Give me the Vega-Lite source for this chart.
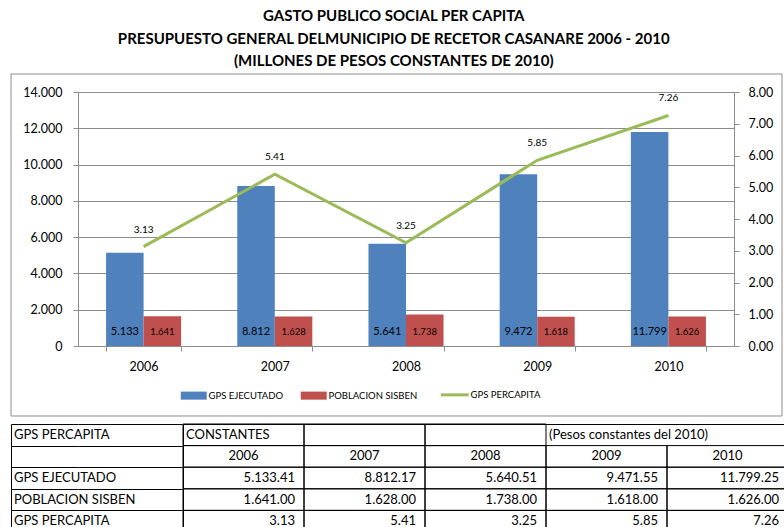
{
  "$schema": "https://vega.github.io/schema/vega-lite/v6.json",
  "padding": {"left": 10, "top": 9, "right": 0, "bottom": 0},
  "background": "white",
  "title": {
    "text": ["GASTO PUBLICO SOCIAL PER CAPITA", "PRESUPUESTO GENERAL DELMUNICIPIO DE RECETOR CASANARE 2006 - 2010", "(MILLONES DE PESOS CONSTANTES DE 2010)"],
    "anchor": "middle", "frame": "bounds", "dx": -6, "fontSize": 15, "fontWeight": "bold", "font": "Lato", "lineHeight": 22.5, "offset": 4, "color": "black"
  },
  "datasets": {
    "main": [
      {"year": "2006", "series": "GPS EJECUTADO", "value": 5133.41},
      {"year": "2007", "series": "GPS EJECUTADO", "value": 8812.17},
      {"year": "2008", "series": "GPS EJECUTADO", "value": 5640.51},
      {"year": "2009", "series": "GPS EJECUTADO", "value": 9471.55},
      {"year": "2010", "series": "GPS EJECUTADO", "value": 11799.25},
      {"year": "2006", "series": "POBLACION SISBEN", "value": 1641},
      {"year": "2007", "series": "POBLACION SISBEN", "value": 1628},
      {"year": "2008", "series": "POBLACION SISBEN", "value": 1738},
      {"year": "2009", "series": "POBLACION SISBEN", "value": 1618},
      {"year": "2010", "series": "POBLACION SISBEN", "value": 1626},
      {"year": "2006", "series": "GPS PERCAPITA", "value": 3.13},
      {"year": "2007", "series": "GPS PERCAPITA", "value": 5.41},
      {"year": "2008", "series": "GPS PERCAPITA", "value": 3.25},
      {"year": "2009", "series": "GPS PERCAPITA", "value": 5.85},
      {"year": "2010", "series": "GPS PERCAPITA", "value": 7.26}
    ],
    "rowlabels": [
      {"series": "h1", "col": "label", "label": "GPS PERCAPITA"},
      {"series": "h2", "col": "label", "label": ""},
      {"series": "GPS EJECUTADO", "col": "label", "label": "GPS EJECUTADO"},
      {"series": "POBLACION SISBEN", "col": "label", "label": "POBLACION SISBEN"},
      {"series": "GPS PERCAPITA", "col": "label", "label": "GPS PERCAPITA"}
    ],
    "headers": [
      {"series": "h1", "year": "2006", "label": "CONSTANTES"},
      {"series": "h1", "year": "2007", "label": ""},
      {"series": "h1", "year": "2008", "label": ""},
      {"series": "h1", "year": "2009", "label": "(Pesos constantes del 2010)"},
      {"series": "h1", "year": "2010", "label": ""},
      {"series": "h2", "year": "2006", "label": "2006"},
      {"series": "h2", "year": "2007", "label": "2007"},
      {"series": "h2", "year": "2008", "label": "2008"},
      {"series": "h2", "year": "2009", "label": "2009"},
      {"series": "h2", "year": "2010", "label": "2010"}
    ]
  },
  "spacing": 6,
  "vconcat": [
    {
      "width": 656,
      "height": 254,
      "layer": [
        {
          "data": {"values": [{"frame": "chart"}]},
          "mark": {"type": "rect", "filled": false, "stroke": "#8c8c8c", "strokeWidth": 1, "clip": false},
          "encoding": {
            "x": {"datum": -0.10213, "type": "quantitative", "scale": {"domain": [0, 1], "nice": false, "zero": false}, "axis": null},
            "x2": {"datum": 1.07317},
            "y": {"datum": -0.27559, "type": "quantitative", "scale": {"domain": [0, 1], "nice": false, "zero": false}, "axis": null},
            "y2": {"datum": 1.07087}
          }
        },
        {
          "data": {"name": "main"},
          "encoding": {
            "x": {
              "field": "year", "type": "nominal",
              "scale": {"type": "band", "paddingInner": 0.428, "paddingOuter": 0.214},
              "axis": {"title": null, "labelAngle": 0, "tickBand": "extent", "ticks": true, "tickSize": 5, "tickColor": "#8c8c8c", "domainColor": "#8c8c8c", "labelFontSize": 12.5, "labelPadding": 9, "labelColor": "black", "grid": false}
            }
          },
          "layer": [
            {
              "transform": [{"filter": "datum.series !== 'GPS PERCAPITA'"}],
              "encoding": {
                "xOffset": {"field": "series", "type": "nominal", "scale": {"domain": ["GPS EJECUTADO", "POBLACION SISBEN"], "paddingInner": 0, "paddingOuter": 0}},
                "y": {
                  "field": "value", "type": "quantitative",
                  "scale": {"domain": [0, 14000], "nice": false},
                  "axis": {"title": null, "orient": "left", "values": [0, 2000, 4000, 6000, 8000, 10000, 12000, 14000], "format": ",.0f", "grid": true, "gridColor": "#8c8c8c", "tickSize": 5, "tickColor": "#8c8c8c", "domainColor": "#8c8c8c", "labelFontSize": 12.5, "labelPadding": 11, "labelColor": "black"}
                }
              },
              "layer": [
                {
                  "mark": {"type": "bar"},
                  "encoding": {
                    "color": {
                      "field": "series", "type": "nominal",
                      "scale": {"domain": ["GPS EJECUTADO", "POBLACION SISBEN", "GPS PERCAPITA"], "range": ["#4F81BD", "#C0504D", "#9BBB59"]},
                      "legend": {
                        "title": null, "orient": "none", "legendX": 111, "legendY": 298, "direction": "horizontal",
                        "labelFontSize": 9.5, "labelColor": "black", "labelOffset": 10, "columnPadding": 16,
                        "encode": {
                          "symbols": {
                            "update": {
                              "shape": {"signal": "datum.value === 'GPS PERCAPITA' ? 'M-1.15,0H1' : 'M-1,-0.31H1V0.31H-1Z'"},
                              "size": {"value": 676},
                              "fill": {"scale": "color", "field": "value"},
                              "stroke": {"scale": "color", "field": "value"},
                              "strokeWidth": {"signal": "datum.value === 'GPS PERCAPITA' ? 3 : 0"},
                              "opacity": {"value": 1}
                            }
                          }
                        }
                      }
                    }
                  }
                },
                {
                  "mark": {"type": "text", "dy": -14, "color": "black"},
                  "encoding": {
                    "y": {"datum": 0, "type": "quantitative"},
                    "text": {"field": "value", "type": "quantitative", "format": ",.0f"},
                    "size": {"field": "series", "type": "ordinal", "scale": {"domain": ["GPS EJECUTADO", "POBLACION SISBEN"], "range": [11, 9.5]}, "legend": null}
                  }
                }
              ]
            },
            {
              "transform": [{"filter": "datum.series === 'GPS PERCAPITA'"}],
              "encoding": {
                "y": {
                  "field": "value", "type": "quantitative",
                  "scale": {"domain": [0, 8], "nice": false},
                  "axis": {"title": null, "orient": "right", "values": [0, 1, 2, 3, 4, 5, 6, 7, 8], "format": ".2f", "grid": false, "tickSize": 5, "tickColor": "#8c8c8c", "domainColor": "#8c8c8c", "labelFontSize": 12.5, "labelPadding": 9, "labelColor": "black"}
                }
              },
              "layer": [
                {
                  "mark": {"type": "line", "strokeWidth": 3},
                  "encoding": {
                    "color": {"field": "series", "type": "nominal", "scale": {"domain": ["GPS EJECUTADO", "POBLACION SISBEN", "GPS PERCAPITA"], "range": ["#4F81BD", "#C0504D", "#9BBB59"]}}
                  }
                },
                {
                  "mark": {"type": "text", "dy": -17, "fontSize": 10, "color": "black"},
                  "encoding": {"text": {"field": "value", "type": "quantitative", "format": ".2f"}}
                }
              ]
            }
          ],
          "resolve": {"scale": {"y": "independent"}}
        }
      ],
      "resolve": {"scale": {"x": "independent", "y": "independent"}}
    },
    {
      "spacing": 0,
      "hconcat": [
        {
          "width": 104,
          "height": 108,
          "data": {"name": "rowlabels"},
          "mark": {"type": "text", "align": "left", "dx": -116, "fontSize": 13, "color": "black"},
          "encoding": {
            "x": {"field": "col", "type": "nominal", "scale": {"type": "band", "paddingInner": 0, "paddingOuter": 0}, "axis": null},
            "y": {
              "field": "series", "type": "nominal",
              "scale": {"type": "band", "domain": ["h1", "h2", "GPS EJECUTADO", "POBLACION SISBEN", "GPS PERCAPITA"], "paddingInner": 0, "paddingOuter": 0},
              "axis": {"title": null, "orient": "left", "offset": 67, "labels": false, "grid": true, "gridColor": "black", "gridWidth": 1, "gridOpacity": 1, "domain": true, "domainColor": "black", "domainWidth": 1, "ticks": true, "tickBand": "extent", "tickSize": -67, "tickColor": "black", "tickWidth": 1, "minExtent": 0}
            },
            "text": {"field": "label", "type": "nominal"}
          }
        },
        {
          "width": 605,
          "height": 108,
          "view": {"stroke": "black", "strokeWidth": 1},
          "encoding": {
            "x": {"field": "year", "type": "nominal", "scale": {"type": "band", "domain": ["2006", "2007", "2008", "2009", "2010"], "paddingInner": 0, "paddingOuter": 0}, "axis": null},
            "y": {"field": "series", "type": "nominal", "scale": {"type": "band", "domain": ["h1", "h2", "GPS EJECUTADO", "POBLACION SISBEN", "GPS PERCAPITA"], "paddingInner": 0, "paddingOuter": 0}, "axis": null}
          },
          "layer": [
            {
              "data": {"name": "headers"},
              "transform": [{"filter": "!(datum.series === 'h1' && (datum.year === '2009' || datum.year === '2010'))"}],
              "mark": {"type": "rect", "filled": false, "stroke": "black", "strokeWidth": 1}
            },
            {
              "data": {"name": "main"},
              "mark": {"type": "rect", "filled": false, "stroke": "black", "strokeWidth": 1}
            },
            {
              "data": {"name": "headers"},
              "transform": [{"filter": "datum.series === 'h1'"}],
              "mark": {"type": "text", "align": "left", "dx": -57.5, "fontSize": 13, "color": "black"},
              "encoding": {"text": {"field": "label", "type": "nominal"}}
            },
            {
              "data": {"name": "headers"},
              "transform": [{"filter": "datum.series === 'h2'"}],
              "mark": {"type": "text", "align": "center", "fontSize": 13, "color": "black"},
              "encoding": {"text": {"field": "label", "type": "nominal"}}
            },
            {
              "data": {"name": "main"},
              "mark": {"type": "text", "align": "right", "dx": 51.5, "fontSize": 13, "color": "black"},
              "encoding": {"text": {"field": "value", "type": "quantitative", "format": ",.2f"}}
            }
          ]
        }
      ]
    }
  ],
  "config": {
    "font": "Lato",
    "view": {"stroke": null},
    "axis": {"labelFont": "Lato"},
    "legend": {"labelFont": "Lato"},
    "text": {"font": "Lato"},
    "locale": {"number": {"decimal": ".", "thousands": ".", "grouping": [3], "currency": ["$", ""]}}
  }
}
